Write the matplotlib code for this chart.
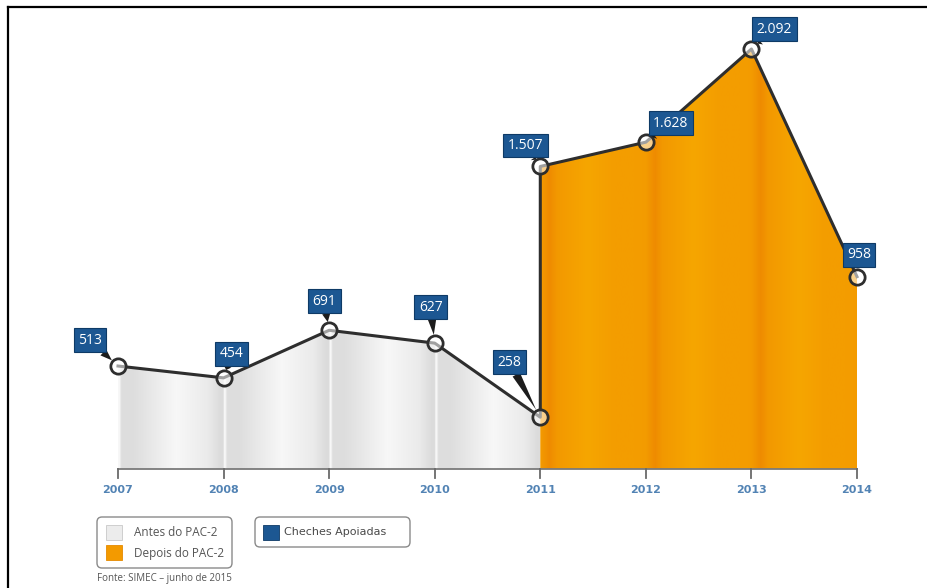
import numpy as np
import matplotlib
matplotlib.use("Agg")
import matplotlib.pyplot as plt
from matplotlib.patches import Polygon, FancyBboxPatch, Rectangle
from matplotlib.lines import Line2D

# Creches apoiadas por ano, antes e depois do PAC-2
years = [2007, 2008, 2009, 2010, 2011, 2012, 2013, 2014]
antesYears = [2007, 2008, 2009, 2010, 2011]
antesValues = [513, 454, 691, 627, 258]
depoisYears = [2011, 2012, 2013, 2014]
depoisValues = [1507, 1628, 2092, 958]

legendAntes = "Antes do PAC-2"
legendDepois = "Depois do PAC-2"
legendSeries = "Cheches Apoiadas"
sourceText = "Fonte: SIMEC – junho de 2015"

# label box offsets (pixels, right / up) for each point, antes first
labelOffsets = [(-28, 26), (8, 24), (-5, 29), (-4, 36), (-31, 55),
                (-15, 21), (25, 19), (23, 20), (2, 22)]

W, H, DPI = 928, 588, 100
fig = plt.figure(figsize=(W / DPI, H / DPI), dpi=DPI)
ax = fig.add_axes([0, 0, 1, 1])
ax.set_xlim(2005.8823, 2014.6725)
ax.set_ylim(-592.7, 2336.1)
ax.axis("off")

def gradientColors(xs, kind):
    t = np.mod(xs - years[0], 1.0)
    if kind == "gray":
        v = np.interp(t, [0, 0.015, 0.03, 0.15, 0.55, 0.85, 0.97, 1.0],
                      [0.97, 0.97, 0.87, 0.87, 0.97, 0.92, 0.86, 0.86])
        return np.stack([v, v, v], axis=-1)
    w = np.interp(t, [0, 0.04, 0.09, 0.16, 0.45, 0.7, 0.9, 1.0],
                  [0.35, 0.6, 0.9, 0.45, 0.0, 0.3, 0.3, 0.35])
    bright = np.array([246, 166, 0]) / 255
    dark = np.array([238, 136, 0]) / 255
    return bright[None, :] * (1 - w[:, None]) + dark[None, :] * w[:, None]

def shadedArea(xs, ys, kind):
    verts = [(xs[0], 0)] + list(zip(xs, ys)) + [(xs[-1], 0)]
    poly = Polygon(verts, closed=True, transform=ax.transData, fc="none", ec="none")
    gx = np.linspace(xs[0], xs[-1], 1400)
    img = gradientColors(gx, kind)[None, :, :]
    im = ax.imshow(img, extent=[xs[0], xs[-1], 0, max(ys) + 10], aspect="auto",
                   interpolation="bilinear", zorder=1)
    im.set_clip_path(poly)

shadedArea(antesYears, antesValues, "gray")
shadedArea(depoisYears, depoisValues, "orange")

# baseline axis with ticks
ax.plot([years[0], years[-1]], [0, 0], color="#7a7a7a", lw=1.3, zorder=2)
for y in years:
    ax.plot([y, y], [0, -45], color="#6a6a6a", lw=1.3, zorder=2)
    ax.text(y, -105, str(y), ha="center", va="center", fontsize=8,
            fontweight="bold", color="#5283b4", family="DejaVu Sans")

lineX = antesYears + depoisYears
lineY = antesValues + depoisValues
ax.plot(lineX, lineY, color="#2e2e2e", lw=2.2, zorder=3, solid_joinstyle="round")
ax.plot(lineX, lineY, ls="none", marker="o", ms=11, mew=2,
        mec="#2e2e2e", mfc=(1, 1, 1, 0.55), zorder=4)

for (x, v), (dx, dy) in zip(zip(lineX, lineY), labelOffsets):
    ax.annotate(f"{v:,}".replace(",", "."), xy=(x, v),
                xytext=(dx * 0.72, dy * 0.72), textcoords="offset points",
                ha="center", va="center", fontsize=10, color="white",
                family="Open Sans", zorder=6,
                bbox=dict(boxstyle="square,pad=0.32", fc="#1c5792", ec="#0e3a66", lw=0.8),
                arrowprops=dict(arrowstyle="wedge,tail_width=0.6,shrink_factor=0.5",
                                fc="#1c1c1c", ec="none", shrinkA=0, shrinkB=6))

# legend boxes and source line, placed in inches from the bottom-left
def px(x, y):
    return x / DPI, (H - y) / DPI

tr = fig.dpi_scale_trans
x0, y0 = px(97, 568)
fig.patches.append(FancyBboxPatch((x0, y0), 135 / DPI, 51 / DPI,
                                  boxstyle="round,pad=0,rounding_size=0.05",
                                  fc="white", ec="#8a8a8a", lw=1, transform=tr))
x0, y0 = px(255, 547)
fig.patches.append(FancyBboxPatch((x0, y0), 155 / DPI, 30 / DPI,
                                  boxstyle="round,pad=0,rounding_size=0.05",
                                  fc="white", ec="#8a8a8a", lw=1, transform=tr))

sx, sy = px(106, 540)
fig.patches.append(Rectangle((sx, sy), 16 / DPI, 15 / DPI, fc="#ececec",
                             ec="#c8c8c8", lw=0.6, transform=tr))
sx, sy = px(106, 560)
fig.patches.append(Rectangle((sx, sy), 16 / DPI, 15 / DPI, fc="#f39a00",
                             ec="#e58a00", lw=0.6, transform=tr))
sx, sy = px(263, 540)
fig.patches.append(Rectangle((sx, sy), 16 / DPI, 15 / DPI, fc="#1c5792",
                             ec="#0e3a66", lw=0.6, transform=tr))

fig.text(*px(134, 533), legendAntes, transform=tr, va="center", fontsize=8.5,
         color="#555555", family="Open Sans")
fig.text(*px(134, 553), legendDepois, transform=tr, va="center", fontsize=8.5,
         color="#555555", family="Open Sans")
fig.text(*px(284, 532), legendSeries, transform=tr, va="center", fontsize=8,
         color="#4a4a4a", family="DejaVu Sans")
fig.text(*px(97, 579), sourceText, transform=tr, va="center", fontsize=7,
         color="#555555", family="Open Sans")

# frame lines along the top and left edges
fig.lines.append(Line2D([8 / W, 1], [1 - 6.5 / H] * 2, transform=fig.transFigure,
                        color="black", lw=1.6))
fig.lines.append(Line2D([8.5 / W] * 2, [0, 1 - 6.5 / H], transform=fig.transFigure,
                        color="black", lw=1.6))

fig.savefig("out.png", dpi=DPI)
